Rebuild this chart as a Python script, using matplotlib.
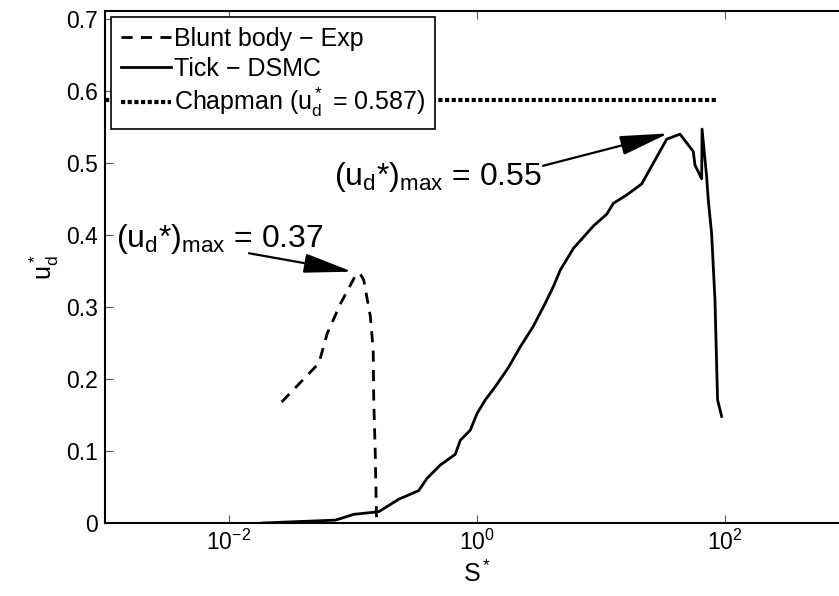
import numpy as np
import matplotlib.pyplot as plt

plt.rcParams['font.family'] = ['Liberation Sans', 'DejaVu Sans']
plt.rcParams['mathtext.fontset'] = 'custom'
plt.rcParams['mathtext.rm'] = 'Liberation Sans'
plt.rcParams['mathtext.it'] = 'Liberation Sans'
plt.rcParams['mathtext.bf'] = 'Liberation Sans:bold'

# Blunt body - experiment (dashed)
blunt_S = [0.0266, 0.0531, 0.0619, 0.0795, 0.105, 0.1135, 0.122, 0.138, 0.1455, 0.147, 0.151, 0.155]
blunt_u = [0.168, 0.222, 0.263, 0.305, 0.344, 0.347, 0.3375, 0.287, 0.240, 0.171, 0.101, 0.0]

# Tick - DSMC (solid)
dsmc_S = [0.01858, 0.0723, 0.1014, 0.1614, 0.2339, 0.3388, 0.3954, 0.507, 0.668, 0.7345,
          0.883, 1.0, 1.167, 1.413, 1.778, 2.239, 2.818, 3.548, 4.169, 4.688,
          5.998, 8.69, 11.14, 12.59, 16.14, 21.28, 33.88, 43.35, 55.46, 57.28,
          64.86, 65.31, 71.12, 73.28, 77.98, 82.99, 87.10, 93.97]
dsmc_u = [0.0, 0.004, 0.012, 0.0157, 0.033, 0.045, 0.062, 0.0806, 0.0954, 0.115,
          0.129, 0.152, 0.171, 0.19, 0.215, 0.245, 0.272, 0.305, 0.33, 0.351,
          0.3815, 0.4125, 0.429, 0.444, 0.4556, 0.4708, 0.533, 0.540, 0.516, 0.497,
          0.478, 0.547, 0.481, 0.449, 0.402, 0.310, 0.171, 0.148]

# Chapman limit
chap_S = [1e-3, 88.0]
chap_u = [0.587, 0.587]

fig = plt.figure(figsize=(8.39, 5.96), dpi=100)
# right spine sits just past the canvas edge, as in the cropped original
ax = fig.add_axes([105/839, 73/596, 744/839, 512/596])

ax.plot(blunt_S, blunt_u, 'k--', lw=2, dashes=(4, 3), label='Blunt body \u2212 Exp')
ax.plot(dsmc_S, dsmc_u, 'k-', lw=2, label='Tick \u2212 DSMC')
ax.plot(chap_S, chap_u, 'k:', lw=3, dashes=(1, 0.6), label='Chapman (u$_d^*$ = 0.587)')

ax.set_xscale('log')
ax.set_xlim(1e-3, 1e3)
ax.set_ylim(0, 0.711)
ax.set_xticks([1e-2, 1e0, 1e2])
ax.minorticks_off()
ax.set_yticks(np.arange(0, 0.71, 0.1))
ax.set_yticklabels(['0', '0.1', '0.2', '0.3', '0.4', '0.5', '0.6', '0.7'])
ax.tick_params(direction='in', top=True, right=True, length=6, width=0.8,
               color='#555555', labelsize=16.5, pad=5)
for sp in ax.spines.values():
    sp.set_linewidth(1.5)

ax.set_xlabel('S$^*$', fontsize=18, labelpad=4)
ax.set_ylabel('u$_d^*$', fontsize=18, labelpad=4)

arrow = dict(arrowstyle='-|>,head_length=1.5,head_width=0.3',
             color='k', lw=1.6, mutation_scale=20, shrinkA=0, shrinkB=0)
ax.annotate('(u$_d$*)$_{max}$ = 0.37', xy=(0.0985, 0.349), xytext=(0.0582, 0.3837),
            ha='right', va='baseline', fontsize=23)
ax.annotate('', xy=(0.0985, 0.349), xytext=(0.01449, 0.3746), arrowprops=arrow)
ax.annotate('(u$_d$*)$_{max}$ = 0.55', xy=(34.9, 0.541), xytext=(0.0697, 0.469),
            ha='left', va='baseline', fontsize=23)
ax.annotate('', xy=(34.9, 0.541), xytext=(3.4, 0.496), arrowprops=arrow)

leg = ax.legend(loc='upper left', bbox_to_anchor=(6/744, 1 - 6/512), fontsize=18,
                fancybox=False, framealpha=1, edgecolor='k', borderpad=0.4,
                labelspacing=0.22, handlelength=2.0, handletextpad=0.1,
                borderaxespad=0)
leg.get_frame().set_linewidth(1.2)

plt.savefig('out.png', dpi=100)
